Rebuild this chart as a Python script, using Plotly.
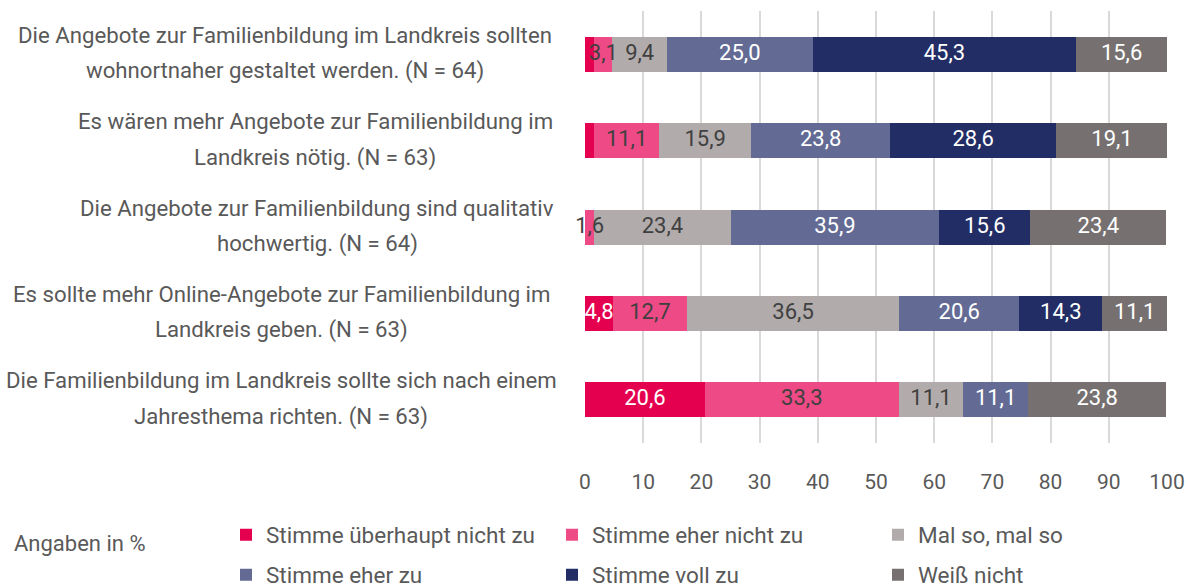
import plotly.graph_objects as go

# Zustimmung zu Aussagen über Familienbildung, Angaben in %
STATEMENTS = [
    ["Die Angebote zur Familienbildung im Landkreis sollten", "wohnortnaher gestaltet werden. (N = 64)"],
    ["Es wären mehr Angebote zur Familienbildung im", "Landkreis nötig. (N = 63)"],
    ["Die Angebote zur Familienbildung sind qualitativ", "hochwertig. (N = 64)"],
    ["Es sollte mehr Online-Angebote zur Familienbildung im", "Landkreis geben. (N = 63)"],
    ["Die Familienbildung im Landkreis sollte sich nach einem", "Jahresthema richten. (N = 63)"],
]
ROW_KEYS = ["A1", "A2", "A3", "A4", "A5"]

ANSWERS = [
    "Stimme überhaupt nicht zu",
    "Stimme eher nicht zu",
    "Mal so, mal so",
    "Stimme eher zu",
    "Stimme voll zu",
    "Weiß nicht",
]

# one list per answer, rows in STATEMENTS order (None = 0)
ueberhaupt_nicht = [1.6, 1.6, None, 4.8, 20.6]
eher_nicht = [3.1, 11.1, 1.6, 12.7, 33.3]
mal_so = [9.4, 15.9, 23.4, 36.5, 11.1]
eher_zu = [25.0, 23.8, 35.9, 20.6, 11.1]
voll_zu = [45.3, 28.6, 15.6, 14.3, None]
weiss_nicht = [15.6, 19.1, 23.4, 11.1, 23.8]

# labels that the original leaves out (too narrow)
HIDDEN = {(0, 0), (0, 1)}

SERIES = [ueberhaupt_nicht, eher_nicht, mal_so, eher_zu, voll_zu, weiss_nicht]
COLOURS = ["#E5004F", "#EE4A85", "#B1ACAB", "#636B94", "#232D65", "#767170"]
TEXT_COLOURS = ["#FFFFFF", "#404040", "#404040", "#FFFFFF", "#FFFFFF", "#FFFFFF"]

FONT = "Roboto"
GREY = "#595959"
LEFT, RIGHT, TOP, BOTTOM = 585, 21, 11, 144
PLOT_W = 1188 - LEFT - RIGHT
PLOT_H = 587 - TOP - BOTTOM
# horizontal centre (px) of each statement's text block
LABEL_CENTRES = [285, 315, 317, 281, 281]


def px_x(px):
    return (px - LEFT) / PLOT_W


def px_y(px):
    return (587 - BOTTOM - px) / PLOT_H


def label(value, i, row):
    if value is None or (i, row) in HIDDEN:
        return ""
    return f"{value:.1f}".replace(".", ",")


fig = go.Figure()
for i, (name, values) in enumerate(zip(ANSWERS, SERIES)):
    fig.add_trace(
        go.Bar(
            name=name,
            y=ROW_KEYS,
            x=[v if v is not None else 0 for v in values],
            orientation="h",
            marker=dict(color=COLOURS[i], line=dict(width=0)),
            hoverinfo="skip",
            legend="legend" if i < 3 else "legend2",
        )
    )

# segment labels on top of all bars, so narrow ones may overflow
start = [0.0] * len(ROW_KEYS)
for i, values in enumerate(SERIES):
    mids = []
    for r, v in enumerate(values):
        v = v or 0
        mids.append(start[r] + v / 2)
        start[r] += v
    fig.add_trace(
        go.Scatter(
            x=mids,
            y=ROW_KEYS,
            mode="text",
            text=[label(v, i, r) for r, v in enumerate(values)],
            textposition="middle center",
            textfont=dict(family=FONT, size=22, color=TEXT_COLOURS[i]),
            cliponaxis=False,
            showlegend=False,
            hoverinfo="skip",
        )
    )

# statement labels, two centred lines per row
for key, lines, centre in zip(ROW_KEYS, STATEMENTS, LABEL_CENTRES):
    for text, shift in zip(lines, (19.5, -16.5)):
        fig.add_annotation(
            x=px_x(centre), xref="paper", xanchor="center",
            y=key, yref="y", yanchor="middle", yshift=shift,
            text=text, showarrow=False,
            font=dict(family=FONT, size=22.2, color=GREY),
        )

fig.add_annotation(
    x=px_x(12), xref="paper", y=px_y(543), yref="paper",
    text="Angaben in %", showarrow=False, xanchor="left", yanchor="middle",
    font=dict(family=FONT, size=22, color=GREY),
)

legend_style = dict(
    orientation="h", xanchor="left", yanchor="middle",
    entrywidth=281, entrywidthmode="pixels",
    font=dict(family=FONT, size=22.5, color=GREY),
    bgcolor="rgba(0,0,0,0)", traceorder="normal",
)

fig.update_layout(
    barmode="stack",
    bargap=0.595,
    width=1188,
    height=587,
    margin=dict(l=LEFT, r=RIGHT, t=TOP, b=BOTTOM, autoexpand=False),
    plot_bgcolor="white",
    paper_bgcolor="white",
    font=dict(family=FONT, color=GREY),
    legend=dict(x=px_x(226), y=px_y(535), **legend_style),
    legend2=dict(x=px_x(226), y=px_y(575), **legend_style),
    xaxis=dict(
        range=[0, 100], dtick=10, showgrid=True, gridcolor="#D9D9D9", gridwidth=2,
        zeroline=False, showline=False, ticks="",
        tickfont=dict(family=FONT, size=21, color=GREY),
        ticklabelstandoff=24,
    ),
    yaxis=dict(
        autorange="reversed", showticklabels=False, showgrid=False,
        zeroline=False, showline=False,
    ),
)

# the page's default body margin would push the figure off the window
fig.write_html(
    "out.html",
    config={"displayModeBar": False},
    post_script="document.body.style.margin='0';",
)
